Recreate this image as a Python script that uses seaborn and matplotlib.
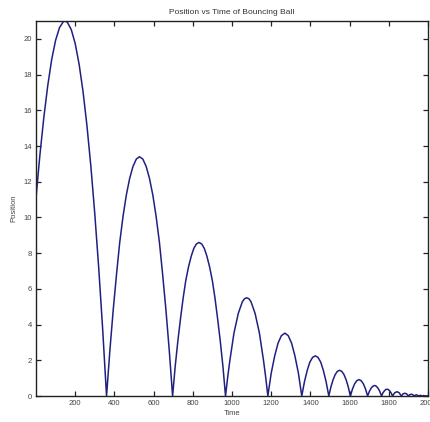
import matplotlib
matplotlib.use("Agg")
import matplotlib.pyplot as plt
import seaborn as sns
import pandas as pd

# Time samples and ball position
time = [
    0, 20, 40, 60, 80, 100, 120, 140, 148, 160, 180, 200, 220, 240, 260, 280, 300, 320, 340, 360,
    377, 394, 411, 427, 444, 461, 478, 495, 512, 528, 545, 562, 579, 596, 613, 630, 646, 663, 680, 697,
    710, 724, 738, 751, 764, 778, 792, 805, 818, 832, 846, 859, 872, 886, 900, 913, 926, 940, 954, 967,
    978, 989, 1010, 1032, 1053, 1064, 1075, 1086, 1097, 1118, 1140, 1161, 1172, 1183,
    1192, 1200, 1218, 1235, 1252, 1270, 1287, 1304, 1321, 1339, 1347, 1356,
    1370, 1384, 1397, 1411, 1425, 1439, 1453, 1466, 1480, 1494,
    1505, 1516, 1527, 1538, 1549, 1560, 1571, 1582, 1593, 1604,
    1615, 1626, 1637, 1648, 1659, 1670, 1681, 1692,
    1701, 1710, 1719, 1728, 1736, 1745, 1754, 1763,
    1770, 1777, 1784, 1791, 1798, 1805, 1812, 1819,
    1830, 1842, 1853, 1864,
    1873, 1882, 1891, 1900,
    1907, 1915, 1922, 1929,
    1935, 1941, 1946, 1952,
    1961, 1970,
    1978, 1985,
    1991, 1997,
    2000,
]
position = [
    11.1, 13.5, 15.6, 17.38, 18.84, 19.92, 20.63, 20.97, 21.0, 20.93, 20.52, 19.74, 18.58, 17.05, 15.14, 12.86, 10.2, 7.18, 3.78, 0.0,
    2.55, 4.82, 6.83, 8.58, 10.05, 11.26, 12.19, 12.86, 13.27, 13.4, 13.27, 12.86, 12.19, 11.26, 10.05, 8.58, 6.83, 4.82, 2.55, 0.0,
    1.63, 3.10, 4.39, 5.50, 6.45, 7.22, 7.83, 8.26, 8.51, 8.6, 8.51, 8.26, 7.83, 7.22, 6.45, 5.50, 4.39, 3.10, 1.63, 0.0,
    1.05, 1.98, 3.52, 4.62, 5.28, 5.45, 5.5, 5.45, 5.28, 4.62, 3.52, 1.98, 1.05, 0.0,
    0.67, 1.27, 2.25, 2.96, 3.38, 3.52, 3.38, 2.96, 2.25, 1.27, 0.67, 0.0,
    0.81, 1.44, 1.89, 2.16, 2.25, 2.16, 1.89, 1.44, 0.81, 0.0,
    0.52, 0.92, 1.21, 1.38, 1.44, 1.38, 1.21, 0.92, 0.52, 0.0,
    0.40, 0.69, 0.86, 0.92, 0.86, 0.69, 0.40, 0.0,
    0.26, 0.44, 0.55, 0.59, 0.55, 0.44, 0.26, 0.0,
    0.17, 0.28, 0.36, 0.38, 0.36, 0.28, 0.17, 0.0,
    0.18, 0.24, 0.18, 0.0,
    0.12, 0.155, 0.12, 0.0,
    0.075, 0.10, 0.075, 0.0,
    0.047, 0.063, 0.047, 0.0,
    0.04, 0.0,
    0.026, 0.0,
    0.017, 0.0,
    0.009,
]
x_ticks = [200, 400, 600, 800, 1000, 1200, 1400, 1600, 1800, 2000]
y_ticks = [0, 2, 4, 6, 8, 10, 12, 14, 16, 18, 20]

df = pd.DataFrame({"Time": time, "Position": position})

sns.set_style("white")
plt.rcParams["font.family"] = ["Liberation Sans", "DejaVu Sans"]

fig = plt.figure(figsize=(4.31, 4.22), dpi=100)
ax = fig.add_axes([0.0835, 0.0616, 0.9095, 0.8886])

sns.lineplot(data=df, x="Time", y="Position", estimator=None, sort=False,
             color="#202080", linewidth=1.1, ax=ax)

ax.set_xlim(0, 2000)
ax.set_ylim(0, 21)
ax.set_xticks(x_ticks)
ax.set_xticklabels([str(v) for v in x_ticks])
ax.set_yticks(y_ticks)
ax.set_yticklabels([str(v) for v in y_ticks])

for s in ax.spines.values():
    s.set_visible(True)
    s.set_color("#222222")
    s.set_linewidth(1.0)

ax.tick_params(direction="in", length=3.5, width=0.9, colors="#222222",
               labelsize=5.5, labelcolor="#444444", top=True, right=True,
               bottom=True, left=True, pad=3)

ax.set_title("Position vs Time of Bouncing Ball", fontsize=6, color="#333333", pad=5)
ax.set_xlabel("Time", fontsize=5.5, color="#444444", labelpad=2)
ax.set_ylabel("Position", fontsize=5.5, color="#444444", labelpad=4)

fig.savefig("out.png", dpi=100)
